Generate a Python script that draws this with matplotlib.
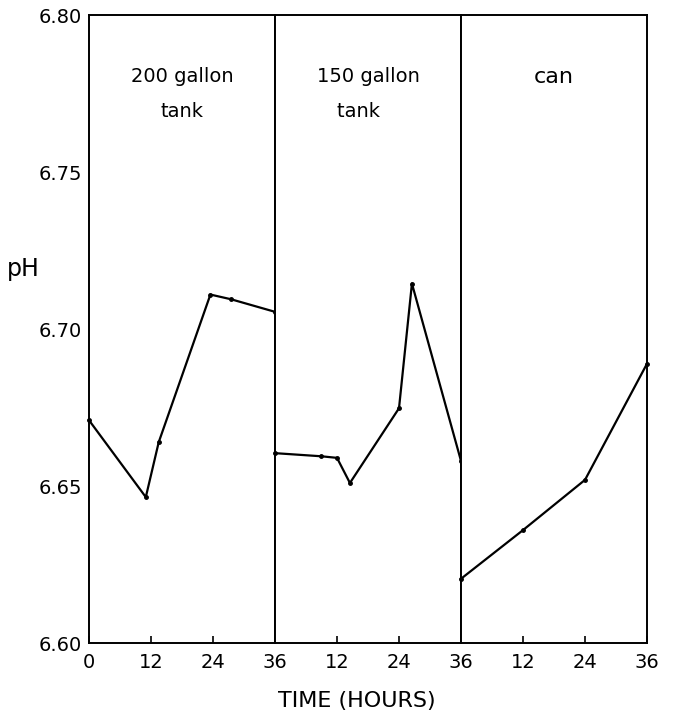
import numpy as np
import matplotlib
matplotlib.use("Agg")
import matplotlib.pyplot as plt

# pH readings, hours from start of each run
t_200 = [0, 11, 13.5, 23.5, 27.5, 36]
ph_200 = [6.671, 6.6465, 6.664, 6.711, 6.7095, 6.7055]
t_150 = [0, 9, 12, 14.5, 24, 26.5, 36]
ph_150 = [6.6605, 6.6595, 6.659, 6.651, 6.6748, 6.7145, 6.658]
t_can = [0, 12, 24, 36]
ph_can = [6.6205, 6.636, 6.652, 6.689]

panel_names = ["200 gallon\ntank", "150 gallon\ntank   ", "can"]
yticks = [6.60, 6.65, 6.70, 6.75, 6.80]
ylabels = ["6.60", "6.65", "6.70", "6.75", "6.80"]

plt.rcParams["font.family"] = ["DejaVu Sans"]
fig, axs = plt.subplots(1, 3, figsize=(6.74, 7.17), dpi=100, sharey=True)
fig.subplots_adjust(left=0.132, right=0.960, top=0.979, bottom=0.103, wspace=0)

data = [(t_200, ph_200), (t_150, ph_150), (t_can, ph_can)]
for i, ax in enumerate(axs):
    t, ph = data[i]
    ax.plot(t, ph, color="black", lw=1.6, marker="o", ms=2.5, clip_on=False)
    ax.set_xlim(0, 36)
    ax.set_ylim(6.60, 6.80)
    if i == 0:
        ax.set_xticks([0, 12, 24, 36])
        ax.set_xticklabels(["0", "12", "24", "36"])
    else:
        ax.set_xticks([12, 24, 36])
        ax.set_xticklabels(["12", "24", "36"])
    ax.tick_params(axis="x", direction="in", length=5, width=1.2, labelsize=14, pad=7)
    ax.tick_params(axis="y", length=0, pad=5, labelsize=14)
    for s in ax.spines.values():
        s.set_linewidth(1.4)
    fs = 16 if i == 2 else 14
    ax.text(0.5, 0.918, panel_names[i], transform=ax.transAxes, ha="center",
            va="top", fontsize=fs, linespacing=2.1)

axs[0].set_yticks(yticks)
axs[0].set_yticklabels(ylabels)
fig.text(0.035, 0.625, "pH", fontsize=17, ha="center", va="center")
fig.text(0.53, 0.022, "TIME (HOURS)", fontsize=16, ha="center", va="center")

plt.savefig("out.png")
